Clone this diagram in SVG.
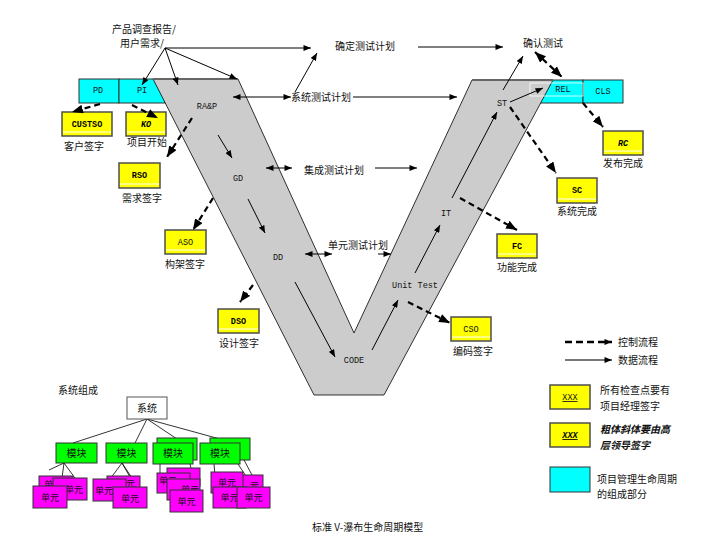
<svg xmlns="http://www.w3.org/2000/svg" width="703" height="548" viewBox="0 0 703 548">
<defs>
<style>
.cn{font-family:"Noto Sans CJK SC","Noto Sans",sans-serif;font-size:10px;fill:#111}
.ctr{text-anchor:middle}
.u{font-size:9px}
.lt{font-family:"Liberation Mono","DejaVu Sans Mono",monospace;font-size:8.5px;fill:#111;text-anchor:middle}
.bx{font-family:"Liberation Mono","DejaVu Sans Mono",monospace;font-size:8.5px;font-weight:bold;fill:#000;text-anchor:middle}
.yb{fill:#ffff00;stroke:#4d4d4d;stroke-width:1.5}
.wl{stroke:#fff;stroke-width:1}
.cy{fill:#00ffff;stroke:#333;stroke-width:1}
.md{fill:#00ff00;stroke:#333;stroke-width:1}
.un{fill:#ff00ff;stroke:#333;stroke-width:1}
.sl{fill:none;stroke:#000;stroke-width:1}
.ds{fill:none;stroke:#000;stroke-width:2.2;stroke-dasharray:6,4}
.tl{stroke:#000;stroke-width:0.8}
</style>
<marker id="s" viewBox="0 0 10 8" refX="10" refY="4" markerWidth="8" markerHeight="6" markerUnits="userSpaceOnUse" orient="auto-start-reverse"><path d="M0,0L10,4L0,8z" fill="#000"/></marker>
<marker id="d" viewBox="0 0 10 8" refX="10" refY="4" markerWidth="11" markerHeight="9" markerUnits="userSpaceOnUse" orient="auto-start-reverse"><path d="M0,0L10,4L0,8z" fill="#000"/></marker>
</defs>
<rect width="703" height="548" fill="#fff"/>

<!-- cyan lifecycle boxes under V -->
<g id="PD"><rect class="cy" x="79" y="79" width="40" height="24"/><text class="lt" x="98" y="93">PD</text></g>
<g id="PI"><rect class="cy" x="119" y="79" width="46" height="24"/><text class="lt" x="142" y="93">PI</text></g>
<g id="REL"><rect class="cy" x="530" y="80" width="53" height="23"/></g>
<g id="CLS"><rect class="cy" x="583" y="80" width="40" height="23"/><text class="lt" x="603" y="94">CLS</text></g>

<!-- V shape -->
<g id="V">
<polygon points="153,79 238,79 354,333 472,80 553,80 384,395 314,395" fill="#cccccc" stroke="#000" stroke-width="0.8"/>
<line x1="153" y1="79" x2="238" y2="79" stroke="#666" stroke-width="2"/>
<line x1="472" y1="80" x2="553" y2="80" stroke="#666" stroke-width="2"/>
<rect x="530" y="83" width="53" height="13" fill="none" stroke="#fff" stroke-width="0.8"/>
<text class="lt" x="563" y="92">REL</text>
</g>

<g id="RAP"><text class="lt" x="207" y="109">RA&amp;P</text></g>
<g id="GD"><text class="lt" x="238" y="181">GD</text></g>
<g id="DD"><text class="lt" x="278" y="260">DD</text></g>
<g id="CODE"><text class="lt" x="354" y="363">CODE</text></g>
<g id="UnitTest"><text class="lt" x="415" y="288">Unit Test</text></g>
<g id="IT"><text class="lt" x="446" y="216">IT</text></g>
<g id="ST"><text class="lt" x="502" y="106">ST</text></g>

<!-- text nodes -->
<g id="input"><text class="cn" x="112" y="33">产品调查报告/</text><text class="cn" x="120" y="47">用户需求/</text></g>
<g id="acceptPlan"><text class="cn" x="335" y="50">确定测试计划</text></g>
<g id="acceptTest"><text class="cn" x="523" y="47">确认测试</text></g>
<g id="sysPlan"><text class="cn" x="291" y="101">系统测试计划</text></g>
<g id="intPlan"><text class="cn" x="304" y="174">集成测试计划</text></g>
<g id="unitPlan"><text class="cn" x="328" y="249">单元测试计划</text></g>

<!-- yellow checkpoint boxes -->
<g id="CUSTSO"><rect class="yb" x="62" y="112" width="50" height="24"/><line class="wl" x1="63" y1="132" x2="111" y2="132"/><text class="bx" x="87" y="127">CUSTSO</text><text class="cn ctr" x="84" y="150">客户签字</text></g>
<g id="KO"><rect class="yb" x="126" y="112" width="40" height="24"/><line class="wl" x1="127" y1="132" x2="165" y2="132"/><text class="bx" x="146" y="127" font-style="italic">KO</text><text class="cn ctr" x="147" y="146">项目开始</text></g>
<g id="RSO"><rect class="yb" x="119" y="163" width="41" height="25"/><line class="wl" x1="120" y1="184" x2="159" y2="184"/><text class="bx" x="139.5" y="178">RSO</text><text class="cn ctr" x="142" y="202">需求签字</text></g>
<g id="ASO"><rect class="yb" x="165" y="230" width="41" height="24"/><line class="wl" x1="166" y1="250" x2="205" y2="250"/><text class="lt" x="185.5" y="245">ASO</text><text class="cn ctr" x="185" y="268">构架签字</text></g>
<g id="DSO"><rect class="yb" x="218" y="309" width="41" height="24"/><line class="wl" x1="219" y1="329" x2="258" y2="329"/><text class="bx" x="238.5" y="324">DSO</text><text class="cn ctr" x="239" y="347">设计签字</text></g>
<g id="CSO"><rect class="yb" x="451" y="317" width="40" height="24"/><line class="wl" x1="452" y1="337" x2="490" y2="337"/><text class="lt" x="471" y="332">CSO</text><text class="cn ctr" x="473" y="355">编码签字</text></g>
<g id="FC"><rect class="yb" x="497" y="234" width="40" height="24"/><line class="wl" x1="498" y1="254" x2="536" y2="254"/><text class="bx" x="517" y="249">FC</text><text class="cn ctr" x="517" y="271">功能完成</text></g>
<g id="SC"><rect class="yb" x="557" y="178" width="40" height="25"/><line class="wl" x1="558" y1="199" x2="596" y2="199"/><text class="bx" x="577" y="193">SC</text><text class="cn ctr" x="577" y="215">系统完成</text></g>
<g id="RC"><rect class="yb" x="603" y="131" width="40" height="24"/><line class="wl" x1="604" y1="151" x2="642" y2="151"/><text class="bx" x="623" y="146" font-style="italic">RC</text><text class="cn ctr" x="623" y="167">发布完成</text></g>

<!-- connectors -->
<g id="connectors">
<g marker-end="url(#s)" class="sl">
<path d="M165,48L142,85"/>
<path d="M165,48L178,85"/>
<path d="M165,48L237,79"/>
<path d="M165,48L311,48"/>
<path d="M418,47L503,47"/>
<path d="M295,92L317,53"/>
<path d="M353,97L457,97"/>
<path d="M375,168L417,168"/>
<path d="M378,254L391,254"/>
<path d="M218,135L232,158"/>
<path d="M248,199L265,233"/>
<path d="M295,282L335,357"/>
<path d="M372,350L398,300"/>
<path d="M415,273L440,225"/>
<path d="M452,198L497,112"/>
<path d="M503,90L523,56"/>
<path d="M510,102L543,88"/>
</g>
<g marker-start="url(#s)" marker-end="url(#s)" class="sl">
<path d="M233,97L291,97"/>
<path d="M266,168L292,168"/>
<path d="M305,254L332,254"/>
</g>
<g marker-end="url(#d)" class="ds">
<path d="M100,104L72,112"/>
<path d="M132,105L158,118"/>
<path d="M192,118L167,157"/>
<path d="M213,198L193,230"/>
<path d="M253,285L240,302"/>
<path d="M408,302L450,323"/>
<path d="M460,198L517,230"/>
<path d="M510,107L556,173"/>
<path d="M583,103L603,127"/>
</g>
<path class="ds" d="M535,52L562,77" marker-start="url(#d)" marker-end="url(#d)"/>
</g>

<!-- legend -->
<g id="legend">
<path d="M565,342L612,342" stroke="#000" stroke-width="2.5" stroke-dasharray="7,4" marker-end="url(#s)"/>
<text class="cn" x="618" y="346">控制流程</text>
<path d="M565,360L612,360" stroke="#777" stroke-width="2" marker-end="url(#s)"/>
<text class="cn" x="618" y="364">数据流程</text>
<rect class="yb" x="550" y="385" width="40" height="24"/>
<text class="lt" x="570" y="400" text-decoration="underline">XXX</text>
<text class="cn" x="600" y="394">所有检查点要有</text>
<text class="cn" x="600" y="410">项目经理签字</text>
<rect class="yb" x="550" y="423" width="40" height="24"/>
<text class="bx" x="570" y="438" font-style="italic" text-decoration="underline">XXX</text>
<text class="cn" x="600" y="433" font-weight="bold" font-style="italic">粗体斜体要由高</text>
<text class="cn" x="600" y="449" font-weight="bold" font-style="italic">层领导签字</text>
<rect class="cy" x="550" y="467" width="40" height="25" stroke-width="1.5"/>
<text class="cn" x="597" y="483">项目管理生命周期</text>
<text class="cn" x="597" y="498">的组成部分</text>
</g>

<!-- system composition tree -->
<g id="tree">
<text class="cn" x="58" y="394">系统组成</text>
<g class="tl">
<line x1="147" y1="419" x2="73" y2="443"/>
<line x1="147" y1="419" x2="135" y2="443"/>
<line x1="147" y1="419" x2="177" y2="439"/>
<line x1="147" y1="419" x2="220" y2="439"/>
</g>
<g id="sys"><rect x="127" y="397" width="40" height="22" fill="#fff" stroke="#555" stroke-width="1"/><text class="cn ctr" x="147" y="412">系统</text></g>

<g id="m1">
<g class="tl"><line x1="64" y1="463" x2="49" y2="470"/><line x1="64" y1="463" x2="62" y2="478"/><line x1="64" y1="463" x2="75" y2="478"/></g>
<rect class="md" x="56" y="443" width="41" height="20"/><text class="cn ctr" x="76.5" y="457">模块</text>
<rect class="un" x="39" y="476" width="34" height="18"/><text class="cn u" x="44" y="488">单</text>
<rect class="un" x="53" y="478" width="34" height="22"/><text class="cn u ctr" x="74" y="493">单元</text>
<rect class="un" x="33" y="486" width="34" height="22"/><text class="cn u ctr" x="50" y="501">单元</text>
</g>
<g id="m2">
<g class="tl"><line x1="122" y1="463" x2="110" y2="479"/><line x1="122" y1="463" x2="130" y2="477"/><line x1="122" y1="463" x2="138" y2="487"/></g>
<rect class="md" x="106" y="443" width="41" height="20"/><text class="cn ctr" x="126.5" y="457">模块</text>
<rect class="un" x="107" y="476" width="33" height="21"/><text class="cn u ctr" x="126" y="487">单元</text>
<rect class="un" x="93" y="479" width="33" height="22"/><text class="cn u ctr" x="104" y="494">单元</text>
<rect class="un" x="113" y="487" width="34" height="21"/><text class="cn u ctr" x="130" y="502">单元</text>
</g>
<g id="m3">
<rect class="md" x="157" y="438" width="40" height="22"/>
<g class="tl"><line x1="160" y1="464" x2="160" y2="473"/><line x1="190" y1="464" x2="192" y2="473"/></g>
<rect class="md" x="153" y="443" width="40" height="21"/><text class="cn ctr" x="173" y="457">模块</text>
<rect class="un" x="167" y="468" width="33" height="18"/>
<rect class="un" x="157" y="473" width="33" height="20"/><text class="cn u" x="159" y="484">单元</text>
<rect class="un" x="167" y="479" width="33" height="21"/><text class="cn u" x="181" y="493">单元</text>
<rect class="un" x="170" y="490" width="33" height="22"/><text class="cn u ctr" x="186.5" y="505">单元</text>
</g>
<g id="m4">
<rect class="md" x="210" y="438" width="40" height="22"/>
<g class="tl"><line x1="214" y1="464" x2="216" y2="487"/><line x1="244" y1="460" x2="252" y2="475"/><line x1="238" y1="464" x2="246" y2="476"/></g>
<rect class="md" x="200" y="443" width="40" height="21"/><text class="cn ctr" x="220" y="457">模块</text>
<rect class="un" x="230" y="475" width="33" height="20"/><text class="cn u" x="250" y="489">元</text>
<rect class="un" x="211" y="472" width="32" height="21"/><text class="cn u ctr" x="227" y="486">单元</text>
<rect class="un" x="213" y="487" width="33" height="21"/><text class="cn u ctr" x="229.5" y="501">单元</text>
<rect class="un" x="237" y="487" width="33" height="21"/><text class="cn u ctr" x="253.5" y="501">单元</text>
</g>
</g>

<g id="title"><text class="cn" x="312" y="531">标准 V-瀑布生命周期模型</text></g>
</svg>
